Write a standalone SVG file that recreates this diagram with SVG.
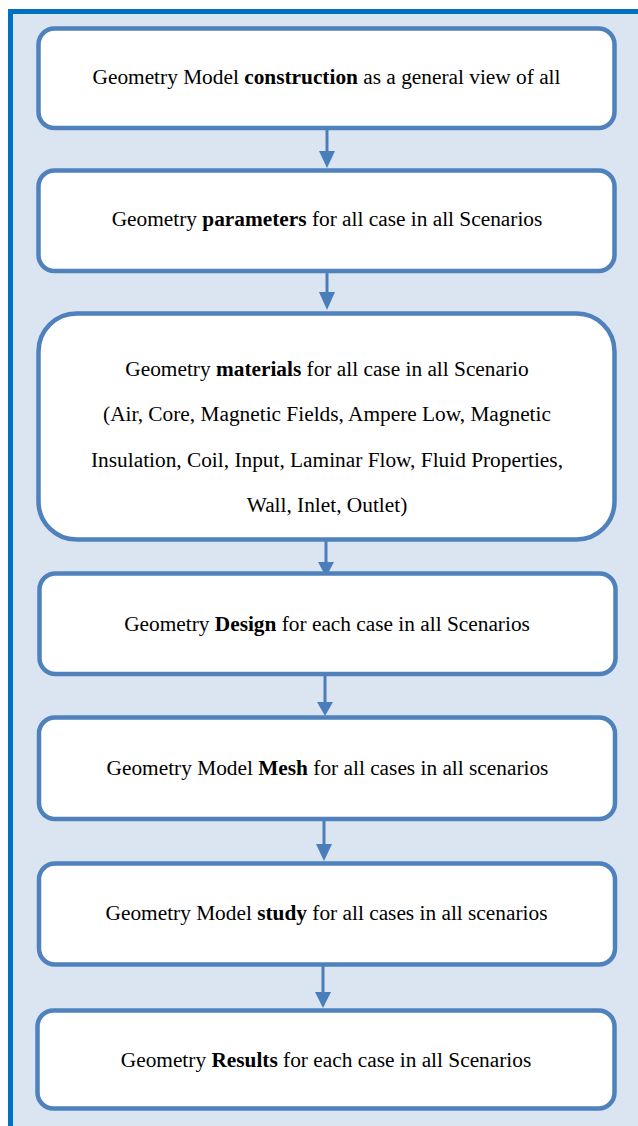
<svg xmlns="http://www.w3.org/2000/svg" width="638" height="1126" viewBox="0 0 638 1126">
<style>
.box{fill:#fff;stroke:#4F81BD;stroke-width:4.5}
.t{font-family:'Liberation Serif','Times New Roman',serif;font-size:21.33px;fill:#000;text-anchor:middle}
.b{font-weight:bold}
.c{stroke:#4A7EBB;stroke-width:3;fill:none}
.h{fill:#4A7EBB}
</style>
<rect x="13" y="14" width="625" height="1112" fill="#DBE5F1"/>
<path d="M10.5 1126 V11.5 H638" fill="none" stroke="#0070C0" stroke-width="5"/>
<g id="connectors">
<line class="c" x1="327" y1="130" x2="327" y2="152"/>
<polygon class="h" points="319,151 335,151 327,168"/>
<line class="c" x1="327" y1="273" x2="327" y2="293"/>
<polygon class="h" points="319,292 335,292 327,310"/>
<line class="c" x1="326" y1="537" x2="326" y2="563"/>
<polygon class="h" points="318,562 334,562 326,577"/>
<line class="c" x1="325" y1="676" x2="325" y2="703"/>
<polygon class="h" points="317,702 333,702 325,716"/>
<line class="c" x1="324" y1="821" x2="324" y2="845"/>
<polygon class="h" points="316,844 332,844 324,861"/>
<line class="c" x1="323" y1="966" x2="323" y2="993"/>
<polygon class="h" points="315,992 331,992 323,1008"/>
</g>
<g id="n1">
<rect class="box" x="38.5" y="28.5" width="576" height="99.5" rx="16"/>
<text class="t" x="326.5" y="84">Geometry Model <tspan class="b">construction</tspan> as a general view of all</text>
</g>
<g id="n2">
<rect class="box" x="38.5" y="170.5" width="576" height="100.5" rx="16"/>
<text class="t" x="327" y="226">Geometry <tspan class="b">parameters</tspan> for all case in all Scenarios</text>
</g>
<g id="n3">
<rect class="box" x="38.5" y="313.5" width="576" height="226" rx="38"/>
<text class="t" x="327" y="376">Geometry <tspan class="b">materials</tspan> for all case in all Scenario</text>
<text class="t" x="327" y="421">(Air, Core, Magnetic Fields, Ampere Low, Magnetic</text>
<text class="t" x="327" y="467">Insulation, Coil, Input, Laminar Flow, Fluid Properties,</text>
<text class="t" x="327" y="512">Wall, Inlet, Outlet)</text>
</g>
<g id="n4">
<rect class="box" x="39.5" y="573.5" width="576" height="100.5" rx="16"/>
<text class="t" x="327" y="631">Geometry <tspan class="b">Design</tspan> for each case in all Scenarios</text>
</g>
<g id="n5">
<rect class="box" x="39" y="717.5" width="576" height="101.5" rx="16"/>
<text class="t" x="327.5" y="775">Geometry Model <tspan class="b">Mesh</tspan> for all cases in all scenarios</text>
</g>
<g id="n6">
<rect class="box" x="39" y="863.5" width="576" height="101" rx="16"/>
<text class="t" x="326.5" y="920">Geometry Model <tspan class="b">study</tspan> for all cases in all scenarios</text>
</g>
<g id="n7">
<rect class="box" x="37.5" y="1010.5" width="577" height="98" rx="16"/>
<text class="t" x="326" y="1067">Geometry <tspan class="b">Results</tspan> for each case in all Scenarios</text>
</g>
</svg>
